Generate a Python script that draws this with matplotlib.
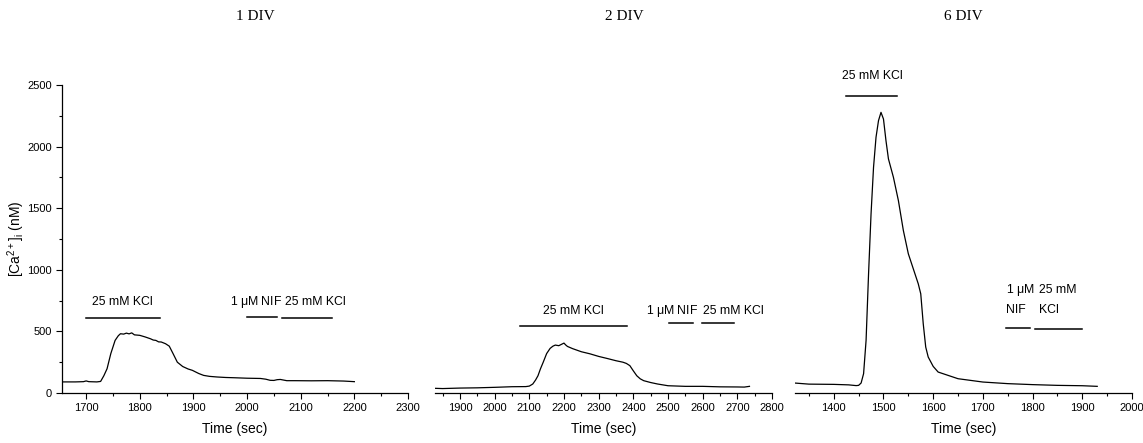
import matplotlib
matplotlib.use('Agg')
import matplotlib.pyplot as plt
from matplotlib.ticker import MultipleLocator

# Fonts
plt.rcParams['font.family'] = ['Liberation Sans Narrow', 'Liberation Sans', 'DejaVu Sans']
plt.rcParams['mathtext.fontset'] = 'custom'
plt.rcParams['mathtext.rm'] = 'Liberation Sans'
plt.rcParams['mathtext.it'] = 'Liberation Sans'

# Data
titles = ['1 DIV', '2 DIV', '6 DIV']
title_x = [255, 624, 963]

t1 = [1658, 1680, 1695, 1700, 1705, 1720, 1727, 1733, 1739, 1746, 1754, 1760, 1764, 1770, 1775,
      1780, 1785, 1790, 1800, 1810, 1820, 1825, 1830, 1835, 1840, 1848, 1855, 1862, 1870, 1880,
      1890, 1898, 1910, 1919, 1930, 1944, 1960, 1975, 2000, 2025, 2035, 2043, 2050, 2056, 2062,
      2074, 2090, 2120, 2150, 2180, 2200]
y1 = [90, 90, 92, 98, 92, 90, 94, 140, 197, 320, 427, 465, 481, 478, 486,
      480, 488, 472, 468, 455, 440, 430, 427, 415, 414, 400, 380, 320, 250, 215,
      195, 184, 158, 143, 135, 130, 126, 124, 120, 118, 112, 103, 102, 108, 110,
      100, 100, 99, 100, 97, 92]

t2 = [1828, 1850, 1900, 1950, 2000, 2050, 2090, 2100, 2110, 2118, 2125, 2132, 2140, 2150, 2160,
      2168, 2175, 2185, 2195, 2200, 2205, 2210, 2225, 2250, 2275, 2300, 2325, 2350, 2370, 2380,
      2390, 2400, 2410, 2420, 2430, 2450, 2470, 2500, 2550, 2600, 2650, 2700, 2720, 2735]
y2 = [38, 36, 40, 42, 46, 51, 52, 56, 73, 105, 140, 195, 249, 320, 362,
      380, 389, 384, 398, 405, 390, 378, 360, 335, 318, 297, 280, 262, 250, 240,
      222, 180, 140, 115, 100, 85, 73, 59, 54, 54, 50, 49, 48, 54]

t3 = [1321, 1350, 1400, 1430, 1445, 1450, 1455, 1460, 1465, 1470, 1475, 1480, 1485, 1490, 1495,
      1500, 1505, 1510, 1520, 1530, 1540, 1550, 1560, 1570, 1575, 1580, 1585, 1590, 1600, 1610,
      1630, 1650, 1700, 1750, 1800, 1850, 1900, 1930]
y3 = [81, 72, 70, 66, 60, 62, 81, 157, 427, 968, 1454, 1832, 2076, 2211, 2278,
      2224, 2049, 1900, 1751, 1562, 1319, 1130, 1008, 886, 805, 562, 373, 292, 216, 170,
      143, 116, 89, 76, 68, 62, 59, 54]

# bars: (start, end, level) and labels: (x, y, text, ha)
bars1 = [(1700, 1837, 608), (1999, 2056, 616), (2065, 2158, 608)]
labels1 = [(1768, 738, '25 mM KCl', 'center'), (2016, 738, r'1 $\mu$M NIF', 'center'),
           (2127, 738, '25 mM KCl', 'center')]
bars2 = [(2073, 2381, 546), (2502, 2573, 565), (2597, 2690, 565)]
labels2 = [(2227, 668, '25 mM KCl', 'center'), (2513, 668, r'1 $\mu$M NIF', 'center'),
           (2689, 668, '25 mM KCl', 'center')]
bars3 = [(1425, 1527, 2408), (1746, 1795, 530), (1805, 1899, 522)]
labels3 = [(1478, 2576, '25 mM KCl', 'center'), (1746, 832, r'1 $\mu$M', 'left'),
           (1746, 670, 'NIF', 'left'), (1812, 832, '25 mM', 'left'), (1812, 670, 'KCl', 'left')]

xlims = [(1655, 2300), (1828, 2800), (1322, 2000)]
xticks = [[1700, 1800, 1900, 2000, 2100, 2200, 2300],
          [1900, 2000, 2100, 2200, 2300, 2400, 2500, 2600, 2700, 2800],
          [1400, 1500, 1600, 1700, 1800, 1900, 2000]]

fig = plt.figure(figsize=(11.43, 4.43), dpi=100)
bottom = 50 / 443
height = 308 / 443
boxes = [(62, 346), (435, 337), (795, 337)]

series = [(t1, y1, bars1, labels1), (t2, y2, bars2, labels2), (t3, y3, bars3, labels3)]

for i, (left, w) in enumerate(boxes):
    ax = fig.add_axes([left / 1143, bottom, w / 1143, height])
    t, y, bars, labels = series[i]
    ax.plot(t, y, color='black', lw=0.9)
    for (a, b, lev) in bars:
        ax.plot([a, b], [lev, lev], color='black', lw=1.1, clip_on=False)
    for (x, yy, s, ha) in labels:
        ax.text(x, yy, s, ha=ha, va='center', fontsize=8.8, clip_on=False)
    ax.set_xlim(*xlims[i])
    ax.set_ylim(0, 2500)
    ax.set_xticks(xticks[i])
    ax.xaxis.set_minor_locator(MultipleLocator(50))
    ax.tick_params(axis='both', which='major', direction='out', length=4, width=0.8, labelsize=8)
    ax.tick_params(axis='both', which='minor', direction='out', length=2.5, width=0.8)
    ax.spines['top'].set_visible(False)
    ax.spines['right'].set_visible(False)
    ax.set_xlabel('Time (sec)', fontsize=10, labelpad=6)
    ax.patch.set_visible(False)
    if i == 0:
        ax.set_yticks([0, 500, 1000, 1500, 2000, 2500])
        ax.yaxis.set_minor_locator(MultipleLocator(250))
        ax.set_ylabel(r'[Ca$^{2+}$]$_i$ (nM)', fontsize=10)
        ax.yaxis.set_label_coords(-(62 - 27) / 346, 0.5)
    else:
        ax.spines['left'].set_visible(False)
        ax.set_yticks([])
    ax.spines['bottom'].set_linewidth(0.9)
    ax.spines['left'].set_linewidth(0.9)
    fig.text(title_x[i] / 1143, 1 - 17 / 443, titles[i], ha='center', va='center',
             fontsize=11, family=['Liberation Serif'])

fig.savefig('out.png', dpi=100)
